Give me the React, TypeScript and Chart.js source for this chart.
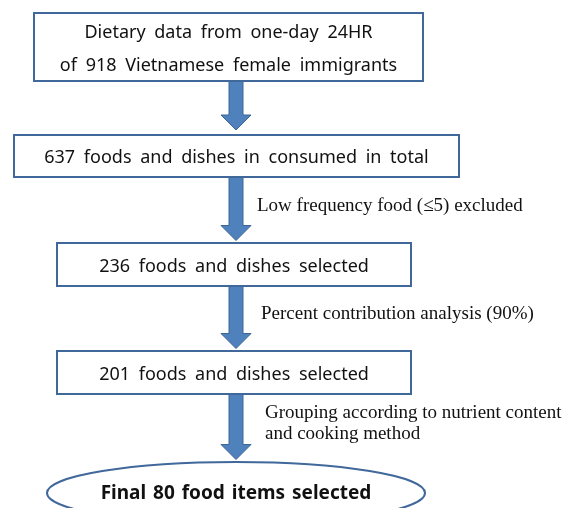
import React, { useEffect, useRef } from "react";
import { Chart, registerables } from "chart.js";

Chart.register(...registerables);

// ---- content ----
const nodeLabels: string[][] = [
  ["Dietary data from one-day 24HR", "of 918 Vietnamese female immigrants"],
  ["637 foods and dishes in consumed in total"],
  ["236 foods and dishes selected"],
  ["201 foods and dishes selected"],
  ["Final 80 food items selected"],
];
const stepLabels: string[][] = [
  [],
  ["Low frequency food (\u22645) excluded"],
  ["Percent contribution analysis (90%)"],
  ["Grouping according to nutrient content", "and cooking method"],
];

// ---- layout (diagram geometry in scale units) ----
const W = 569;
const H = 508;
const FLOW_X = 236;
const nodeBoxes = [
  { x0: 34, x1: 423, y0: 13, y1: 81, ellipse: false },
  { x0: 14, x1: 459, y0: 135, y1: 177, ellipse: false },
  { x0: 57, x1: 411, y0: 243, y1: 286, ellipse: false },
  { x0: 57, x1: 411, y0: 351, y1: 394, ellipse: false },
  { x0: 47, x1: 425, y0: 462, y1: 524, ellipse: true },
];
const labelX = [0, 257, 261, 265];

const BOX_STROKE = "#41689a";
const ARROW_FILL = "#4f81bd";
const ARROW_STROKE = "#3d6596";

const flowPlugin = {
  id: "flow",
  afterDraw(chart: any) {
    const ctx: CanvasRenderingContext2D = chart.ctx;
    const sx = chart.scales.x;
    const sy = chart.scales.y;
    const px = (v: number) => sx.getPixelForValue(v);
    const py = (v: number) => sy.getPixelForValue(v);
    ctx.save();

    // arrows
    for (let i = 0; i < nodeBoxes.length - 1; i++) {
      const a = nodeBoxes[i];
      const b = nodeBoxes[i + 1];
      const top = py(a.y1);
      const tip = py(b.y0 - (i === 0 ? 5 : 2.5));
      const cx = px(FLOW_X);
      const headLen = 15;
      const sw = 7;
      const hw = 15;
      ctx.beginPath();
      ctx.moveTo(cx - sw, top);
      ctx.lineTo(cx + sw, top);
      ctx.lineTo(cx + sw, tip - headLen);
      ctx.lineTo(cx + hw, tip - headLen);
      ctx.lineTo(cx, tip);
      ctx.lineTo(cx - hw, tip - headLen);
      ctx.lineTo(cx - sw, tip - headLen);
      ctx.closePath();
      ctx.fillStyle = ARROW_FILL;
      ctx.fill();
      ctx.lineWidth = 1;
      ctx.strokeStyle = ARROW_STROKE;
      ctx.stroke();

      const lines = stepLabels[i];
      if (lines && lines.length) {
        ctx.font = '19px "Liberation Serif", "Times New Roman", serif';
        ctx.fillStyle = "#111";
        ctx.textAlign = "left";
        ctx.textBaseline = "middle";
        const mid = (top + tip) / 2 - 3;
        const lh = 21;
        lines.forEach((t, k) => {
          ctx.fillText(t, px(labelX[i]), mid + (k - (lines.length - 1) / 2) * lh);
        });
      }
    }

    // nodes
    nodeBoxes.forEach((n, i) => {
      const x0 = px(n.x0), x1 = px(n.x1), y0 = py(n.y0), y1 = py(n.y1);
      ctx.lineWidth = 2;
      ctx.strokeStyle = BOX_STROKE;
      ctx.fillStyle = "#fff";
      ctx.beginPath();
      if (n.ellipse) {
        ctx.ellipse((x0 + x1) / 2, (y0 + y1) / 2, (x1 - x0) / 2, (y1 - y0) / 2, 0, 0, Math.PI * 2);
      } else {
        ctx.rect(x0, y0, x1 - x0, y1 - y0);
      }
      ctx.fill();
      ctx.stroke();

      const lines = nodeLabels[i];
      ctx.font = (n.ellipse ? "bold 19px" : "18px") + ' "Noto Sans", sans-serif';
      (ctx as any).wordSpacing = n.ellipse ? "2px" : "4px";
      ctx.fillStyle = "#111";
      ctx.textAlign = "center";
      ctx.textBaseline = "middle";
      const cx = (x0 + x1) / 2;
      const cy = (y0 + y1) / 2 + (n.ellipse ? 1 : 2);
      const lh = 33;
      lines.forEach((t, k) => {
        ctx.fillText(t, cx, cy + (k - (lines.length - 1) / 2) * lh);
      });
      (ctx as any).wordSpacing = "0px";
    });
    ctx.restore();
  },
};

export default function App() {
  const ref = useRef<HTMLCanvasElement>(null);
  useEffect(() => {
    if (!ref.current) return;
    const chart = new Chart(ref.current, {
      type: "scatter",
      data: {
        datasets: [
          {
            data: nodeBoxes.map((n) => ({ x: (n.x0 + n.x1) / 2, y: (n.y0 + n.y1) / 2 })),
            pointRadius: 0,
            showLine: false,
          },
        ],
      },
      options: {
        animation: false,
        responsive: false,
        events: [],
        layout: { padding: 0 },
        plugins: { legend: { display: false }, tooltip: { enabled: false } },
        scales: {
          x: { type: "linear", min: 0, max: W, display: false },
          y: { type: "linear", min: 0, max: H, reverse: true, display: false },
        },
      },
      plugins: [flowPlugin],
    });
    return () => chart.destroy();
  }, []);
  return (
    <div style={{ position: "fixed", left: 0, top: 0, width: W, height: H, background: "#fff" }}>
      <canvas ref={ref} width={W} height={H} style={{ width: W, height: H, display: "block" }} />
    </div>
  );
}
